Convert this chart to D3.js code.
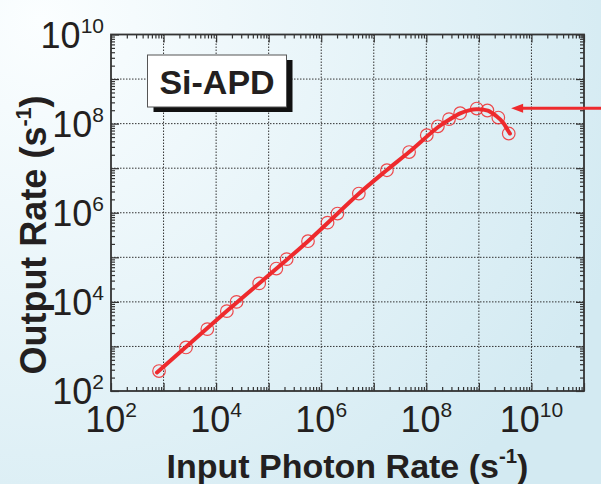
<!DOCTYPE html>
<html>
<head>
<meta charset="utf-8">
<script src="https://cdn.jsdelivr.net/npm/d3@7"></script>
<style>
  body { margin: 0; }
  svg { display: block; font-family: "Liberation Sans", Arial, Helvetica, sans-serif; }
</style>
</head>
<body>
<svg id="chart" width="601" height="484"></svg>
<script>
// measured points (s^-1)
const inputRate = [8.2e2, 2.67e3, 6.8e3, 1.6e4, 2.45e4, 6.6e4, 1.4e5, 2.2e5, 5.6e5, 1.32e6, 2.04e6,
  5.2e6, 1.78e7, 4.7e7, 1.02e8, 1.66e8, 2.7e8, 4.4e8, 9.1e8, 1.45e9, 2.34e9, 3.7e9];
const outputRate = [2.8e2, 9.5e2, 2.45e3, 6.2e3, 1.0e4, 2.6e4, 5.6e4, 9.1e4, 2.3e5, 6.0e5, 9.6e5,
  2.7e6, 9.0e6, 2.3e7, 5.5e7, 8.7e7, 1.26e8, 1.71e8, 2.18e8, 1.97e8, 1.37e8, 6.0e7];

// fitted curve
const fitInput = [7.5e2, 1.62e4, 5.6e5, 5.25e6, 1.78e7, 4.7e7, 1.66e8, 2.8e8, 4.4e8, 6.5e8,
  8.9e8, 1.48e9, 2.14e9, 2.9e9, 3.55e9, 3.9e9];
const fitOutput = [2.6e2, 6.3e3, 2.3e5, 2.7e6, 9.1e6, 2.3e7, 8.3e7, 1.25e8, 1.7e8, 1.98e8,
  2.1e8, 1.95e8, 1.48e8, 1.05e8, 7.1e7, 6.0e7];

const xLabelPowers = [2, 4, 6, 8, 10];
const yLabelPowers = [2, 4, 6, 8, 10];
const panelLabel = "Si-APD";
const arrowAt = [4.1e9, 2.2e8];

const svg = d3.select("#chart");
const pLeft = 111, pRight = 584, pTop = 34.5, pBottom = 391;
const red = "#ee2a2d";

const x = d3.scaleLog().domain([1e2, 1e11]).range([pLeft, pRight]);
const y = d3.scaleLog().domain([1e2, 1e10]).range([pBottom, pTop]);

// background
const defs = svg.append("defs");
const grad = defs.append("radialGradient").attr("id", "bg")
  .attr("gradientUnits", "userSpaceOnUse")
  .attr("cx", 40).attr("cy", 20).attr("r", 620);
grad.append("stop").attr("offset", 0).attr("stop-color", "#fbfeff");
grad.append("stop").attr("offset", 1).attr("stop-color", "#d3eaf2");
svg.append("rect").attr("width", 601).attr("height", 484).attr("fill", "url(#bg)");

const decades = (a, b) => d3.range(a, b + 1).map(e => Math.pow(10, e));
const minors = (a, b) => d3.range(a, b).flatMap(e => d3.range(2, 10).map(m => m * Math.pow(10, e)));

const xMajor = decades(2, 11), yMajor = decades(2, 10);
const xMinor = minors(2, 11), yMinor = minors(2, 10);

// grid
const grid = svg.append("g").attr("stroke", "#333").attr("stroke-width", 1)
  .attr("stroke-dasharray", "1.5,1.5");
grid.selectAll(".gx").data(xMajor.slice(1, -1)).join("line")
  .attr("x1", d => x(d)).attr("x2", d => x(d)).attr("y1", pTop).attr("y2", pBottom);
grid.selectAll(".gy").data(yMajor.slice(1, -1)).join("line")
  .attr("y1", d => y(d)).attr("y2", d => y(d)).attr("x1", pLeft).attr("x2", pRight);

// inward ticks on all four sides
function ticks(axis, transform) {
  const g = svg.append("g").attr("transform", transform).call(axis);
  g.select(".domain").remove();
  g.selectAll("text").remove();
  g.selectAll("line").attr("stroke", "#333").attr("stroke-width", 1.2);
}
[[xMinor, 4], [xMajor, 8]].forEach(([v, s]) => {
  ticks(d3.axisBottom(x).tickValues(v).tickSize(-s).tickSizeOuter(0), `translate(0,${pBottom})`);
  ticks(d3.axisTop(x).tickValues(v).tickSize(-s).tickSizeOuter(0), `translate(0,${pTop})`);
});
[[yMinor, 4], [yMajor, 8]].forEach(([v, s]) => {
  ticks(d3.axisLeft(y).tickValues(v).tickSize(-s).tickSizeOuter(0), `translate(${pLeft},0)`);
  ticks(d3.axisRight(y).tickValues(v).tickSize(-s).tickSizeOuter(0), `translate(${pRight},0)`);
});

svg.append("rect").attr("x", pLeft).attr("y", pTop)
  .attr("width", pRight - pLeft).attr("height", pBottom - pTop)
  .attr("fill", "none").attr("stroke", "#333").attr("stroke-width", 1.8);

// tick labels
function powerLabel(sel) {
  sel.each(function(d) {
    const t = d3.select(this);
    t.append("tspan").text("10");
    t.append("tspan").attr("dy", -15).attr("font-size", 21).text(d);
  });
}
svg.selectAll(".xl").data(xLabelPowers).join("text")
  .attr("x", d => x(Math.pow(10, d))).attr("y", 432)
  .attr("text-anchor", "middle").attr("font-size", 36).attr("fill", "#231f20")
  .call(powerLabel);
svg.selectAll(".yl").data(yLabelPowers).join("text")
  .attr("x", 104).attr("y", d => y(Math.pow(10, d)) + 13)
  .attr("text-anchor", "end").attr("font-size", 36).attr("fill", "#231f20")
  .call(powerLabel);

// axis titles
function title(t, main, size) {
  t.attr("font-size", size).attr("font-weight", "bold").attr("fill", "#231f20")
    .attr("text-anchor", "middle");
  t.append("tspan").text(main + " (s");
  t.append("tspan").attr("dy", -15).attr("font-size", size * 0.6).text("-1");
  t.append("tspan").attr("dy", 15).text(")");
}
svg.append("text").attr("x", (pLeft + pRight) / 2).attr("y", 478)
  .call(title, "Input Photon Rate", 34);
svg.append("text").attr("transform", "translate(46,235) rotate(-90)")
  .call(title, "Output Rate", 36);

// panel label
svg.append("rect").attr("x", 153.5).attr("y", 60).attr("width", 139).attr("height", 52).attr("fill", "#111");
svg.append("rect").attr("x", 147.5).attr("y", 55).attr("width", 139).attr("height", 52)
  .attr("fill", "#fff").attr("stroke", "#555").attr("stroke-width", 1);
svg.append("text").attr("x", 217).attr("y", 94).attr("text-anchor", "middle")
  .attr("font-size", 34).attr("font-weight", "bold").attr("fill", "#231f20").text(panelLabel);

// fitted line
const fit = fitInput.map((v, i) => [v, fitOutput[i]]);
svg.append("path").datum(fit)
  .attr("fill", "none").attr("stroke", red).attr("stroke-width", 4).attr("stroke-linecap", "round")
  .attr("d", d3.line().x(d => x(d[0])).y(d => y(d[1])).curve(d3.curveCatmullRom));

// data circles
svg.selectAll(".pt").data(inputRate).join("circle")
  .attr("cx", d => x(d)).attr("cy", (d, i) => y(outputRate[i])).attr("r", 6.3)
  .attr("fill", "none").attr("stroke", red).attr("stroke-opacity", 0.85).attr("stroke-width", 1.2);

// arrow pointing at the saturation peak
const ax = x(arrowAt[0]), ay = y(arrowAt[1]);
svg.append("line").attr("x1", ax + 10).attr("x2", 601).attr("y1", ay).attr("y2", ay)
  .attr("stroke", red).attr("stroke-width", 3);
svg.append("path").attr("fill", red)
  .attr("d", `M${ax},${ay}L${ax + 12},${ay - 4.5}L${ax + 12},${ay + 4.5}Z`);
</script>
</body>
</html>
